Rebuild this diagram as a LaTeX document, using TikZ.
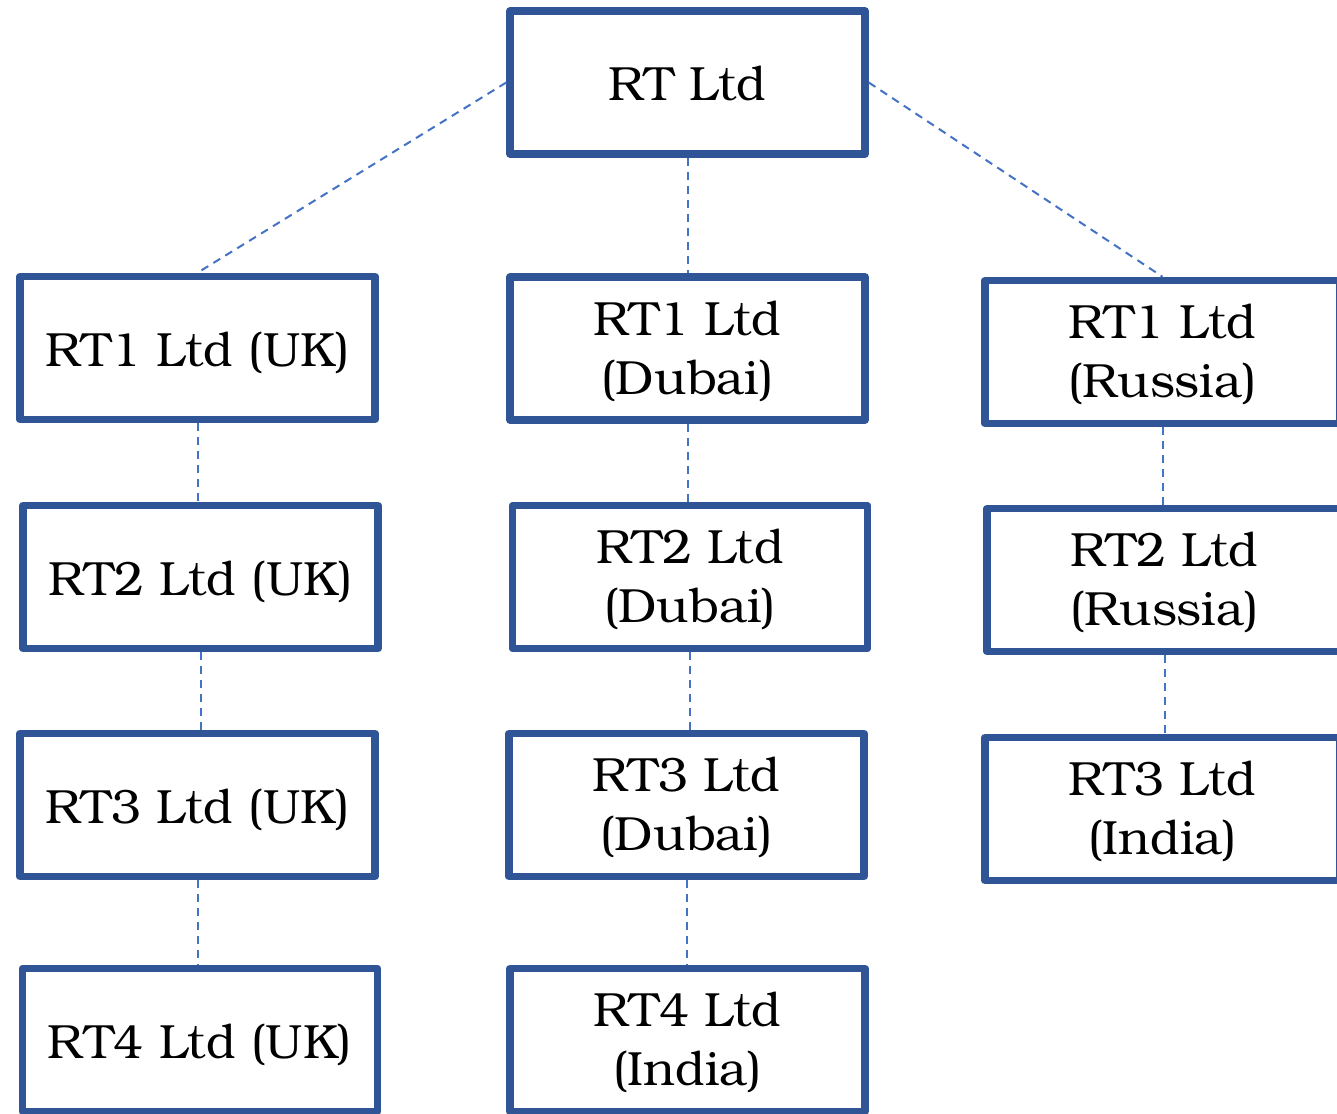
\documentclass[tikz,border=0pt]{standalone}
\usepackage{fontspec}
\setmainfont{TeX Gyre Bonum}
\definecolor{boxblue}{HTML}{2F5597}
\definecolor{linkblue}{HTML}{4472C4}
\begin{document}
\begin{tikzpicture}[x=1pt,y=-1pt,
  company/.style={draw=boxblue, line width=7.5pt, line join=round, fill=white,
    minimum width=355pt, minimum height=143pt, align=center, inner sep=0pt,
    font=\fontsize{48}{59}\selectfont},
  oneline/.style={company, text height=36pt, text depth=0pt},
  twoline/.style={company, text height=91pt, text depth=0pt},
  link/.style={draw=linkblue, line width=2pt, dash pattern=on 8pt off 6pt}]
\useasboundingbox (0,0) rectangle (1337,1113);
\clip (0,0) rectangle (1337,1113);

% parent company
\node[oneline] (rt) at (687.5,82.5) {RT Ltd};

% UK branch
\node[oneline] (uk1) at (197.5,348) {RT1 Ltd (UK)};
\node[oneline] (uk2) at (200.5,577) {RT2 Ltd (UK)};
\node[oneline] (uk3) at (197.5,805) {RT3 Ltd (UK)};
\node[oneline] (uk4) at (200,1040) {RT4 Ltd (UK)};

% Dubai branch
\node[twoline] (du1) at (687.5,348.5) {RT1 Ltd\\(Dubai)};
\node[twoline] (du2) at (690,577) {RT2 Ltd\\(Dubai)};
\node[twoline] (du3) at (686.5,805) {RT3 Ltd\\(Dubai)};
\node[twoline] (du4) at (687.5,1040) {RT4 Ltd\\(India)};

% Russia branch
\node[twoline] (ru1) at (1162.5,352) {RT1 Ltd\\(Russia)};
\node[twoline] (ru2) at (1164.5,580) {RT2 Ltd\\(Russia)};
\node[twoline] (in3) at (1162.5,809) {RT3 Ltd\\(India)};

% ownership links
\draw[link] (rt.west) -- (uk1.north);
\draw[link] (rt.south) -- (du1.north);
\draw[link] (rt.east) -- (ru1.north);
\draw[link] (uk1.south) -- (uk1.south |- uk2.north);
\draw[link] (uk2.south) -- (uk2.south |- uk3.north);
\draw[link] (uk3.south) -- (uk3.south |- uk4.north);
\draw[link] (du1.south) -- (du1.south |- du2.north);
\draw[link] (du2.south) -- (du2.south |- du3.north);
\draw[link] (du3.south) -- (du3.south |- du4.north);
\draw[link] (ru1.south) -- (ru1.south |- ru2.north);
\draw[link] (ru2.south) -- (ru2.south |- in3.north);
\end{tikzpicture}
\end{document}
